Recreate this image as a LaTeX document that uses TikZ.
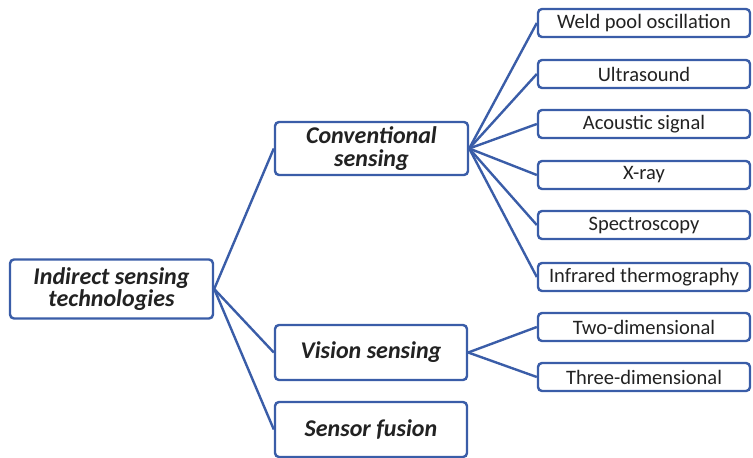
\documentclass[tikz,border=0pt]{standalone}
\usepackage{fontspec}
\setmainfont{Carlito}
\definecolor{edge}{HTML}{3A5DA8}
\definecolor{txt}{HTML}{222222}
\begin{document}
\begin{tikzpicture}[x=1pt,y=-1pt,
  box/.style={draw=edge,line width=2.4pt,rounded corners=4pt,fill=white,text=txt,align=center,inner sep=0pt},
  mainbox/.style={box,font=\bfseries\itshape\fontsize{24}{22.5}\selectfont},
  leaf/.style={box,minimum width=212pt,minimum height=28pt,font=\fontsize{20.5}{22}\selectfont},
  conn/.style={draw=edge,line width=2.4pt}]
\useasboundingbox (0,0) rectangle (753,458);
\node[mainbox,minimum width=203pt,minimum height=59pt] (ind) at (111.5,289) {Indirect sensing\\technologies};
\node[mainbox,minimum width=193pt,minimum height=53pt] (conv) at (371.5,148.5) {Conventional\\sensing};
\node[mainbox,minimum width=192pt,minimum height=55pt] (vis) at (371,352.5) {Vision sensing};
\node[mainbox,minimum width=192pt,minimum height=55pt] (fus) at (371,429.5) {Sensor fusion};
\node[leaf] (weld) at (644,23) {Weld pool oscillation};
\node[leaf] (ultra) at (644,74) {Ultrasound};
\node[leaf] (acou) at (644,124) {Acoustic signal};
\node[leaf] (xray) at (644,175) {X-ray};
\node[leaf] (spec) at (644,225) {Spectroscopy};
\node[leaf] (infr) at (644,277) {Infrared thermography};
\node[leaf] (two) at (644,327) {Two-dimensional};
\node[leaf] (three) at (644,377) {Three-dimensional};
\foreach \t in {conv,vis,fus} \draw[conn] (ind.east) -- (\t.west);
\foreach \t in {weld,ultra,acou,xray,spec,infr} \draw[conn] (conv.east) -- (\t.west);
\foreach \t in {two,three} \draw[conn] (vis.east) -- (\t.west);
\end{tikzpicture}
\end{document}
